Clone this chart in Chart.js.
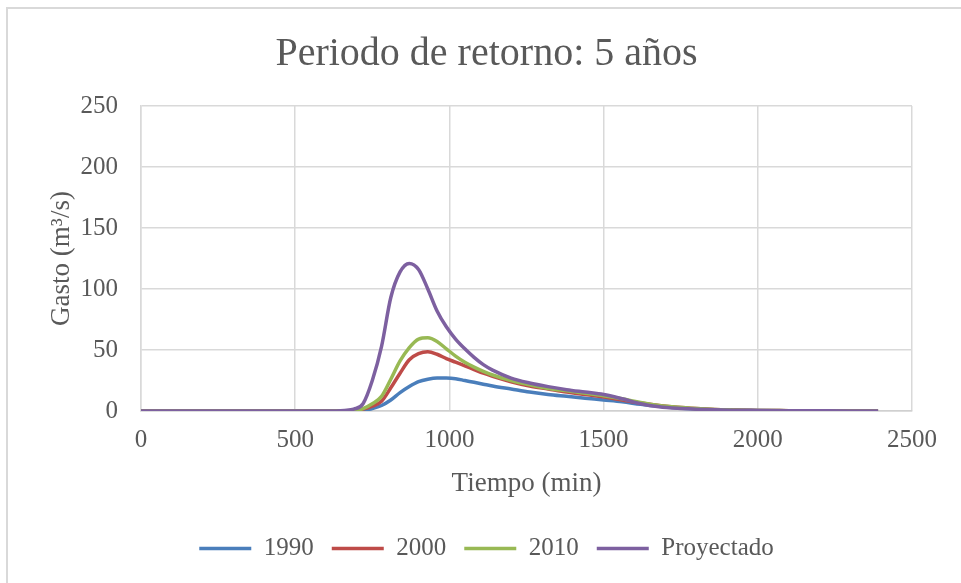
<!DOCTYPE html>
<html>
<head>
<meta charset="utf-8">
<script src="https://cdn.jsdelivr.net/npm/chart.js@4.4.1/dist/chart.umd.min.js"></script>
<style>
  html, body { margin: 0; padding: 0; background: #ffffff; }
  #marco {
    position: absolute; left: 6px; top: 7px; width: 1000px; height: 600px;
    border-left: 2px solid #d9d9d9; border-top: 2px solid #d9d9d9;
  }
  #caja { position: absolute; left: 0; top: 0; width: 961px; height: 583px; }
</style>
</head>
<body>
<div id="marco"></div>
<div id="caja"><canvas id="myChart" width="961" height="583"></canvas></div>
<script>
// Tiempo (min) y gasto (m3/s) para cada hidrograma
const tiempos = [0, 600, 660, 690, 720, 750, 780, 810, 840, 870, 900, 930, 960, 990, 1020, 1050,
  1080, 1110, 1140, 1200, 1260, 1320, 1380, 1440, 1500, 1560, 1620, 1680, 1740, 1800, 1860,
  1920, 2000, 2100, 2200, 2300, 2390];

const gasto1990 = [0, 0, 0, 0, 0.5, 2, 4.5, 9, 15, 20, 24, 26, 27, 27, 26.5, 25,
  23.5, 22, 20.5, 18, 15.5, 13.5, 12, 10.5, 9, 7.5, 5.5, 3.8, 2.5, 1.6, 1,
  0.7, 0.4, 0.2, 0.1, 0.05, 0];

const gasto2000 = [0, 0, 0, 0.2, 1.5, 4, 8, 19, 31, 42, 47, 48.5, 46.5, 43, 40, 37,
  34, 31, 28.5, 24, 20.5, 18, 15.5, 13.5, 11.5, 9, 6.5, 4.5, 3, 2, 1.3,
  0.9, 0.5, 0.3, 0.15, 0.05, 0];

const gasto2010 = [0, 0, 0, 0.3, 2, 6, 12, 26, 41, 52, 59, 60, 57, 51, 45, 40,
  36, 32.5, 29.5, 25, 21.5, 18.5, 16.5, 14.5, 12.5, 10, 7, 4.5, 3, 2, 1.3,
  0.9, 0.5, 0.3, 0.15, 0.05, 0];

const gastoProyectado = [0, 0, 0.5, 1.5, 6, 25, 53, 93, 114, 121, 116, 100, 82, 69, 59, 51,
  44, 38, 33.5, 27, 23, 20, 17.5, 15.5, 13.5, 10, 6, 3.5, 2.2, 1.5, 1,
  0.7, 0.5, 0.3, 0.2, 0.1, 0.1];

const series = [
  { nombre: "1990", valores: gasto1990, color: "#4a7ebb", orden: 4 },
  { nombre: "2000", valores: gasto2000, color: "#be4b48", orden: 3 },
  { nombre: "2010", valores: gasto2010, color: "#98b954", orden: 2 },
  { nombre: "Proyectado", valores: gastoProyectado, color: "#7d60a0", orden: 1 }
];

const fuente = "'Liberation Serif', 'Times New Roman', serif";
const gris = "#595959";

const datasets = series.map(s => ({
  label: s.nombre,
  data: tiempos.map((t, i) => ({ x: t, y: s.valores[i] })),
  borderColor: s.color,
  backgroundColor: s.color,
  borderWidth: 3.5,
  pointRadius: 0,
  pointStyle: "line",
  cubicInterpolationMode: "monotone",
  order: s.orden
}));

const ctx = document.getElementById("myChart").getContext("2d");

new Chart(ctx, {
  type: "line",
  data: { datasets: datasets },
  options: {
    responsive: false,
    animation: false,
    layout: { padding: { left: 12, right: 0, top: 0, bottom: 12 } },
    plugins: {
      tooltip: { enabled: false },
      title: {
        display: true,
        text: "Periodo de retorno: 5 años",
        color: gris,
        font: { family: fuente, size: 40, weight: "normal" },
        padding: { top: 30, bottom: 28 }
      },
      legend: {
        position: "bottom",
        labels: {
          color: gris,
          font: { family: fuente, size: 25 },
          usePointStyle: true,
          pointStyleWidth: 52,
          padding: 18,
          sort: (a, b) => a.datasetIndex - b.datasetIndex
        }
      }
    },
    scales: {
      x: {
        type: "linear",
        min: 0,
        max: 2500,
        ticks: {
          stepSize: 500,
          color: gris,
          font: { family: fuente, size: 25, lineHeight: 1 },
          padding: 17,
          maxRotation: 0,
          callback: v => String(v)
        },
        grid: { color: "#d9d9d9", lineWidth: 1.5, drawTicks: false },
        border: { color: "#d0d0d0", width: 1.5 },
        title: {
          display: true,
          text: "Tiempo (min)",
          color: gris,
          font: { family: fuente, size: 27, lineHeight: 1 },
          padding: { top: 0, bottom: 21 }
        }
      },
      y: {
        min: 0,
        max: 250,
        ticks: {
          stepSize: 50,
          color: gris,
          font: { family: fuente, size: 25 },
          padding: 23,
          callback: v => String(v)
        },
        grid: { color: "#d9d9d9", lineWidth: 1.5, drawTicks: false },
        border: { color: "#d9d9d9", width: 1.5 },
        title: {
          display: true,
          text: "Gasto (m³/s)",
          color: gris,
          font: { family: fuente, size: 27 },
          padding: { top: 34, bottom: 6 }
        },
        afterFit: scale => { scale.width = 129; }
      },
      // margen derecho del área de trazado
      margenDer: {
        position: "right",
        display: true,
        ticks: { display: false },
        grid: { display: false },
        border: { display: false },
        afterFit: scale => { scale.width = 49; }
      }
    }
  }
});
</script>
</body>
</html>
